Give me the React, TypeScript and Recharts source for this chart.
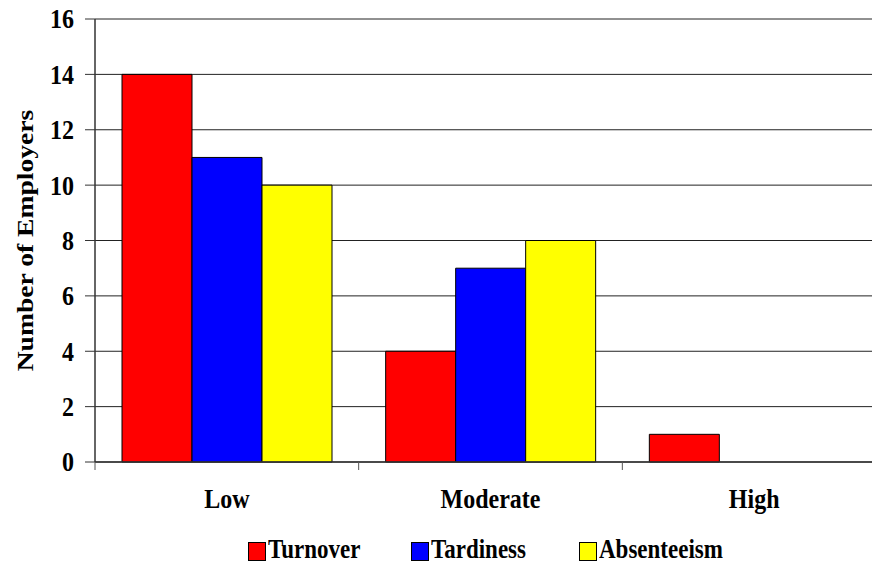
import React from "react";
import { BarChart, Bar, XAxis, YAxis, CartesianGrid, Legend } from "recharts";

const categories = ["Low", "Moderate", "High"];
const turnover = [14, 4, 1];
const tardiness = [11, 7, 0];
const absenteeism = [10, 8, 0];
const yTicks = [0, 2, 4, 6, 8, 10, 12, 14, 16];

const seriesNames = ["Turnover", "Tardiness", "Absenteeism"];
const seriesColors = ["#FF0000", "#0000FF", "#FFFF00"];

const data = categories.map((c, i) => ({
  name: c,
  Turnover: turnover[i],
  Tardiness: tardiness[i],
  Absenteeism: absenteeism[i],
}));

const FONT = "'Liberation Serif', 'Times New Roman', serif";
const STRETCH = 1.15;

const YTick = (props: any) => {
  const { x, y, payload } = props;
  return (
    <text
      transform={`translate(${x}, ${y}) scale(1, ${STRETCH})`}
      textAnchor="end"
      dy="0.34em"
      fontFamily={FONT}
      fontWeight="bold"
      fontSize={24}
      fill="#000"
    >
      {payload.value}
    </text>
  );
};

const XTick = (props: any) => {
  const { x, y, payload } = props;
  const left = payload.coordinate - (payload.offset || 0);
  return (
    <g>
      <line x1={left} x2={left} y1={y - 8} y2={y} stroke="#555" strokeWidth={1} />
      <text
        transform={`translate(${x}, ${y + 38}) scale(1, ${STRETCH})`}
        textAnchor="middle"
        fontFamily={FONT}
        fontWeight="bold"
        fontSize={24}
        fill="#000"
      >
        {payload.value}
      </text>
    </g>
  );
};

const YLabel = (props: any) => {
  const vb = props.viewBox || { x: 0, y: 0, width: 0, height: 0 };
  const cx = 33;
  const cy = vb.y + vb.height / 2;
  return (
    <text
      transform={`translate(${cx}, ${cy}) rotate(-90) scale(${STRETCH}, 1)`}
      textAnchor="middle"
      fontFamily={FONT}
      fontWeight="bold"
      fontSize={24}
      fill="#000"
    >
      Number of Employers
    </text>
  );
};

const legendPositions = [248, 411, 579];

const LegendContent = () => (
  <div style={{ position: "relative", width: 872, height: 30 }}>
    {seriesNames.map((n, i) => (
      <React.Fragment key={n}>
        <div
          style={{
            position: "absolute",
            left: legendPositions[i],
            top: 7,
            width: 18,
            height: 19,
            boxSizing: "border-box",
            border: "1px solid #000",
            background: seriesColors[i],
          }}
        />
        <span
          style={{
            position: "absolute",
            left: legendPositions[i] + 20,
            top: 4,
            fontFamily: FONT,
            fontWeight: "bold",
            fontSize: 23,
            lineHeight: "23px",
            whiteSpace: "nowrap",
            color: "#000",
            display: "inline-block",
            transform: `scale(1, ${STRETCH})`,
            transformOrigin: "left 84%",
          }}
        >
          {n}
        </span>
      </React.Fragment>
    ))}
  </div>
);

export default function App() {
  return (
    <div
      style={{
        position: "absolute",
        left: 0,
        top: 0,
        width: 872,
        height: 565,
        overflow: "hidden",
        background: "#fff",
      }}
    >
      <BarChart
        width={900}
        height={565}
        data={data}
        margin={{ top: 19, right: 14, left: 0, bottom: 0 }}
        barCategoryGap={27}
        barGap={0}
      >
        <CartesianGrid vertical={false} stroke="#222" strokeWidth={1} />
        <XAxis
          dataKey="name"
          interval={0}
          height={73}
          tickSize={8}
          tickMargin={0}
          tickLine={false}
          axisLine={{ stroke: "#333", strokeWidth: 1.5 }}
          tick={<XTick />}
        />
        <YAxis
          domain={[0, 16]}
          ticks={yTicks}
          width={95}
          tickSize={10}
          tickMargin={11}
          interval={0}
          axisLine={{ stroke: "#333", strokeWidth: 1.5 }}
          tickLine={{ stroke: "#333" }}
          tick={<YTick />}
          label={{ content: <YLabel /> } as any}
        />
        <Legend
          verticalAlign="bottom"
          wrapperStyle={{ left: 0, width: 872 }}
          content={<LegendContent />}
        />
        {seriesNames.map((n, i) => (
          <Bar
            key={n}
            dataKey={n}
            fill={seriesColors[i]}
            stroke="#000"
            strokeWidth={1}
            isAnimationActive={false}
          />
        ))}
      </BarChart>
    </div>
  );
}
